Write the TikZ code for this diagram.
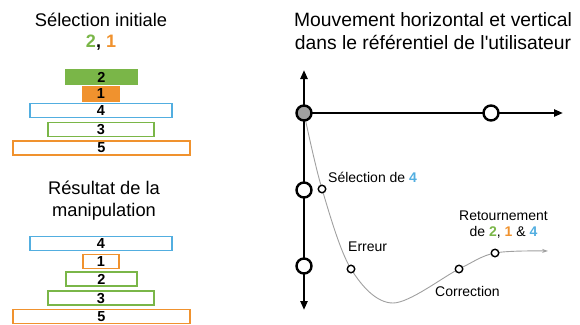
\documentclass[tikz,border=0pt]{standalone}
\usepackage{fontspec}
\setmainfont{Liberation Sans}
\usetikzlibrary{arrows.meta}
\definecolor{cgreen}{HTML}{7AB648}
\definecolor{corange}{HTML}{F0922E}
\definecolor{cblue}{HTML}{52AEE0}
\definecolor{cgray}{HTML}{A0A0A0}
\begin{document}
\begin{tikzpicture}[x=1pt,y=-1pt,
  title/.style={font=\fontsize{18.3}{22}\selectfont, align=center, inner sep=0pt},
  lbl/.style={font=\fontsize{14}{16.5}\selectfont, inner sep=0pt},
  block/.style={draw, line width=1.6pt, minimum height=14pt, inner sep=0pt, text depth=0pt, font=\bfseries\fontsize{14.5}{15}\selectfont},
  axis/.style={line width=2.4pt, -{Triangle[length=9pt,width=7pt]}},
  bigc/.style={circle, draw, line width=2.4pt, fill=white, minimum size=15pt, inner sep=0pt},
  smallc/.style={circle, draw, line width=1.4pt, fill=white, minimum size=7.5pt, inner sep=0pt},
  curve/.style={draw=cgray, line width=0.9pt, -{Stealth[length=6pt,width=4pt]}}
  ]
\useasboundingbox (0,0) rectangle (580,324);
% left column
\node[title] (t1) at (101,20) {Sélection initiale};
\node[title, font=\bfseries\fontsize{18}{21}\selectfont] (t1b) at (101,43) {\textcolor{cgreen}{2}, \textcolor{corange}{1}};
\node[block, draw=cgreen, fill=cgreen, minimum width=71pt] (a2) at (101.5,77) {2};
\node[block, draw=corange, fill=corange, minimum width=36pt] (a1) at (101,94) {1};
\node[block, draw=cblue, minimum width=142pt] (a4) at (101,110.5) {4};
\node[block, draw=cgreen, minimum width=106pt] (a3) at (101,129.5) {3};
\node[block, draw=corange, minimum width=177pt] (a5) at (101.5,148) {5};

\node[title] (t2) at (104,201) {Résultat de la\\manipulation};
\node[block, draw=cblue, minimum width=142pt] (b4) at (101,243.5) {4};
\node[block, draw=corange, minimum width=36pt] (b1) at (101,261.5) {1};
\node[block, draw=cgreen, minimum width=71pt] (b2) at (101.5,279) {2};
\node[block, draw=cgreen, minimum width=106pt] (b3) at (101,298) {3};
\node[block, draw=corange, minimum width=177pt] (b5) at (101.5,316.5) {5};

% right side
\node[title, font=\fontsize{19.3}{23}\selectfont] (t3) at (433,31.5) {Mouvement horizontal et vertical\\dans le référentiel de l\textquotesingle utilisateur};

\coordinate (top) at (304,70);
\coordinate (bot) at (304,310);
\coordinate (right) at (563,113);
\coordinate (o) at (304,113);
\coordinate (p1) at (322,189);
\coordinate (p2) at (351,269);
\coordinate (pmin) at (393,303);
\coordinate (p3) at (459,269);
\coordinate (p4) at (495,253);
\coordinate (pend) at (548,251);

\draw[axis] (o) -- (top);
\draw[axis] (o) -- (bot);
\draw[axis] (o) -- (right);

\draw[curve] plot[smooth, tension=0.55] coordinates {(o) (p1) (p2) (pmin) (p3) (p4) (pend)};

\node[bigc, fill=cgray] (co) at (o) {};
\node[bigc] (ch) at (491,113) {};
\node[bigc] (cv1) at (304,190) {};
\node[bigc] (cv2) at (304,266) {};
\node[smallc] (s1) at (p1) {};
\node[smallc] (s2) at (p2) {};
\node[smallc] (s3) at (p3) {};
\node[smallc] (s4) at (p4) {};

\node[lbl, anchor=west] (l1) at (328,177) {Sélection de \textbf{\textcolor{cblue}{4}}};
\node[lbl, anchor=west] (l2) at (348,247) {Erreur};
\node[lbl, anchor=west] (l3) at (435,291) {Correction};
\node[lbl, align=center] (l4) at (503.5,224.5) {Retournement\\de \textbf{\textcolor{cgreen}{2}}, \textbf{\textcolor{corange}{1}} \& \textbf{\textcolor{cblue}{4}}};
\end{tikzpicture}
\end{document}
